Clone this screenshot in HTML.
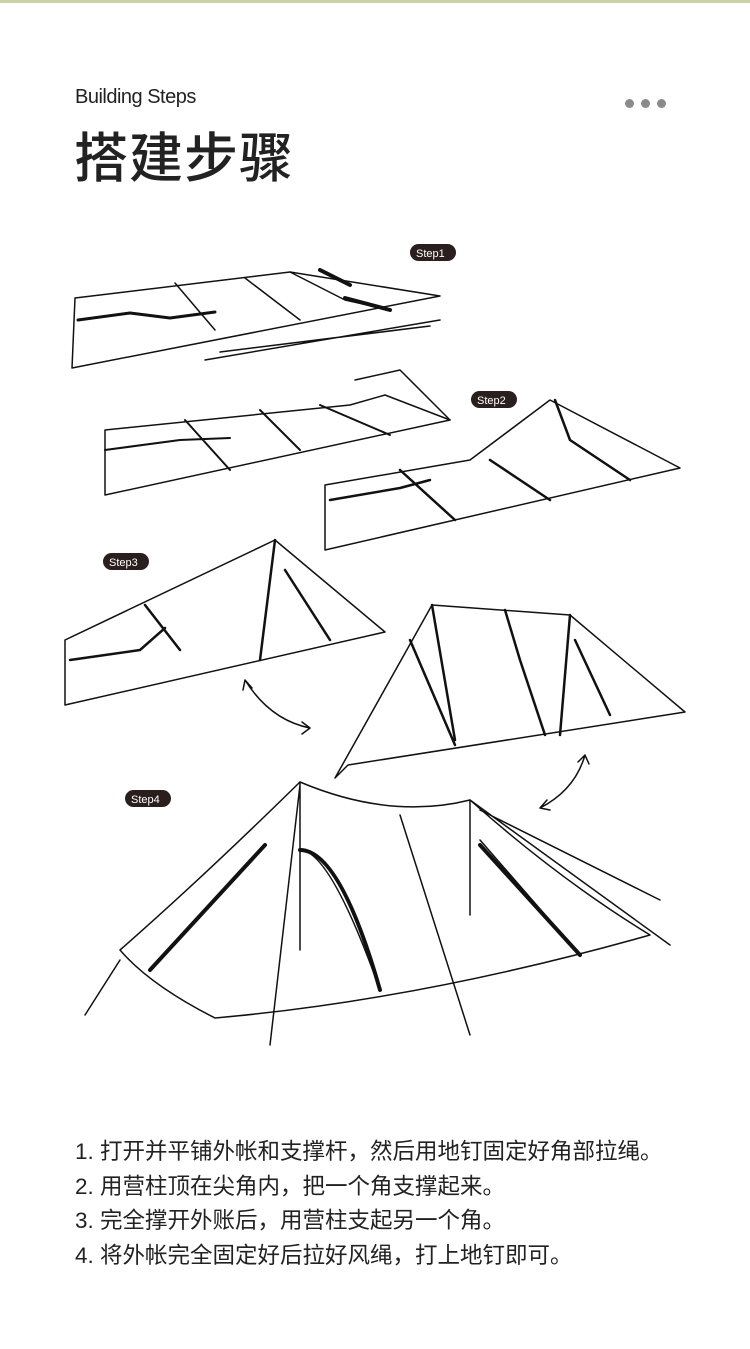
<!DOCTYPE html>
<html><head><meta charset="utf-8"><style>
html,body{margin:0;padding:0;background:#fff;}
body{width:750px;height:1349px;position:relative;overflow:hidden;font-family:"Liberation Sans","Noto Sans CJK SC",sans-serif;color:#222;}
.top{position:absolute;left:0;top:0;width:750px;height:3px;background:#c9d3a5;}
.t1{position:absolute;left:75px;top:86px;font-size:20px;letter-spacing:-0.5px;color:#222;}
.t2{position:absolute;left:74px;top:127px;font-size:54px;font-weight:500;color:#222;letter-spacing:1px;line-height:1.2;}
.dots{position:absolute;left:625px;top:95px;}
.dots span{display:inline-block;width:9px;height:9px;border-radius:50%;background:#8a8a8a;margin-right:7px;}
.list{position:absolute;left:75px;top:1135px;font-size:22.5px;line-height:34.5px;color:#222;}
svg{position:absolute;left:0;top:0;}
.b text{font-size:11px;fill:#fff;font-family:"Liberation Sans",sans-serif;}
</style></head><body>
<div class="top"></div>
<div class="t1">Building Steps</div>
<div class="dots"><span></span><span></span><span></span></div>
<div class="t2">搭建步骤</div>
<svg width="750" height="1349" fill="none" stroke="#111" stroke-width="1.5" stroke-linejoin="round" stroke-linecap="round">
<path d="M75 298 L290 272 L440 296 L72 368 Z"/>
<path d="M78 320 L130 313 L170 318 L215 312" stroke-width="3"/>
<path d="M175 283 L215 330 M245 278 L300 320 M290 272 L345 300 L390 310" />
<path d="M320 270 L350 285 M345 298 L390 310" stroke-width="4"/>
<path d="M205 360 L440 320 M220 352 L430 326"/>
<path d="M105 430 L350 405 L385 395 L450 420 L105 495 Z"/>
<path d="M105 450 L180 440 L230 438 M185 420 L230 470 M260 410 L300 450 M320 405 L390 435" stroke-width="2"/>
<path d="M355 380 L400 370 L450 420"/>
<path d="M325 485 L470 460 L550 400 L680 468 L325 550 Z"/>
<path d="M330 500 L400 488 L430 480 M400 470 L455 520 M490 460 L550 500 M555 400 L570 440 L630 480" stroke-width="2.5"/>
<path d="M65 640 L275 540 L385 632 L65 705 Z"/>
<path d="M275 540 L260 660 M145 605 L180 650 M70 660 L140 650 L165 628 M285 570 L330 640" stroke-width="2.5"/>
<path d="M335 778 L432 605 L570 615 L685 712 L348 765 Z"/>
<path d="M432 605 L455 740 M570 615 L560 735 M410 640 L455 745 M575 640 L610 715 M505 610 L520 660 L545 735" stroke-width="2.5"/>
<path d="M245 680 Q270 720 310 728 M302 722 L310 728 L302 734 M245 680 L243 690 M245 680 L252 688"/>
<path d="M585 755 Q575 790 540 808 M547 800 L540 808 L550 810 M585 755 L578 762 M585 755 L589 764"/>
<path d="M120 950 Q200 880 300 782 Q390 820 470 800 Q560 880 650 935 Q420 1000 215 1018 Q150 985 120 950 Z"/>
<path d="M300 782 L300 950 M470 800 L470 915 M150 970 L260 850 M300 850 Q330 850 380 990 M480 840 L580 955 M400 815 L470 1035 M300 785 L270 1045"/>
<path d="M265 845 L150 970 M300 850 Q340 850 380 990 M480 845 L580 955" stroke-width="4"/>
<path d="M470 800 L670 945 M480 810 L660 900 M120 960 L85 1015"/>
<g class="b" stroke="none">
<rect x="410" y="244" width="46" height="17" rx="8.5" fill="#2a1f1c"/><text x="416" y="257">Step1</text>
<rect x="471" y="391" width="46" height="17" rx="8.5" fill="#2a1f1c"/><text x="477" y="404">Step2</text>
<rect x="103" y="553" width="46" height="17" rx="8.5" fill="#2a1f1c"/><text x="109" y="566">Step3</text>
<rect x="125" y="790" width="46" height="17" rx="8.5" fill="#2a1f1c"/><text x="131" y="803">Step4</text>
</g>
</svg>
<div class="list">1. 打开并平铺外帐和支撑杆，然后用地钉固定好角部拉绳。<br>2. 用营柱顶在尖角内，把一个角支撑起来。<br>3. 完全撑开外账后，用营柱支起另一个角。<br>4. 将外帐完全固定好后拉好风绳，打上地钉即可。</div>
</body></html>
